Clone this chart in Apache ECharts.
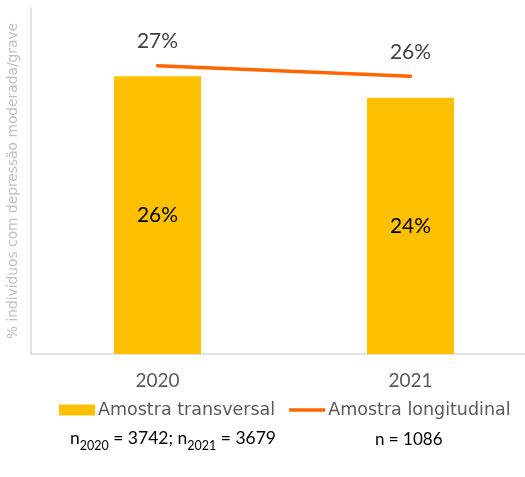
<!DOCTYPE html>
<html>
<head>
<meta charset="utf-8">
<style>
  html, body { margin: 0; padding: 0; background: #fff; }
  #chart { width: 525px; height: 477px; }
</style>
<script src="https://cdn.jsdelivr.net/npm/echarts@6/dist/echarts.min.js"></script>
</head>
<body>
<div id="chart"></div>
<script>
// Years on the category axis
const years = ['2020', '2021'];
// Cross-sectional sample: % with moderate/severe depression
const transversal = [26, 24];
// Longitudinal sample: % with moderate/severe depression
const longitudinal = [27, 26];
// Series names shown in the legend
const seriesNames = ['Amostra transversal', 'Amostra longitudinal'];
const yAxisTitle = '% indivíduos com depressão moderada/grave';

const FONT = 'Lato, "Open Sans", sans-serif';
const WIDE = '"DejaVu Sans", sans-serif';
const chart = echarts.init(document.getElementById('chart'), null, { renderer: 'canvas' });

chart.setOption({
  animation: false,
  textStyle: { fontFamily: FONT },
  grid: { left: 31, width: 506, top: 8, height: 346, containLabel: false, outerBoundsMode: 'none' },
  legend: {
    data: [
      { name: seriesNames[0], icon: 'rect' },
      { name: seriesNames[1], icon: 'path://M0,0 H38 V3.5 H0 Z' }
    ],
    left: 54,
    top: 396,
    itemWidth: 36,
    itemHeight: 11,
    itemGap: 14,
    textStyle: { fontSize: 17.5, color: '#595959', fontFamily: WIDE, padding: [0, 0, 0, -2] }
  },
  xAxis: {
    type: 'category',
    data: years,
    axisLine: { lineStyle: { color: '#d9d9d9', width: 1.5 } },
    axisTick: { show: false },
    axisLabel: { fontSize: 19, color: '#595959', margin: 17, fontFamily: FONT }
  },
  yAxis: {
    type: 'value',
    min: 0,
    max: 32.4,
    name: yAxisTitle,
    nameLocation: 'middle',
    nameGap: 11,
    nameRotate: 90,
    nameTextStyle: { fontSize: 13.8, color: '#c0c0c0', fontFamily: WIDE },
    axisLine: { show: true, lineStyle: { color: '#d9d9d9', width: 1.5 } },
    axisTick: { show: false },
    axisLabel: { show: false },
    splitLine: { show: false }
  },
  series: [
    {
      name: seriesNames[0],
      type: 'bar',
      data: transversal,
      barWidth: 87,
      itemStyle: { color: '#FFC000' },
      label: {
        show: true,
        position: 'inside',
        formatter: p => p.value + '%',
        fontSize: 21,
        color: '#000',
        fontFamily: FONT
      }
    },
    {
      name: seriesNames[1],
      type: 'line',
      data: longitudinal,
      symbol: 'circle',
      symbolSize: 0.1,
      showSymbol: true,
      lineStyle: { color: '#FF6600', width: 3.5, cap: 'round' },
      itemStyle: { color: '#FF6600' },
      label: {
        show: true,
        position: 'top',
        distance: 14,
        formatter: p => p.value + '%',
        fontSize: 21,
        color: '#404040',
        fontFamily: FONT
      }
    }
  ],
  graphic: [
    {
      type: 'text',
      left: 70,
      top: 429,
      style: {
        text: '{n|n}{s|2020}{n| = 3742; n}{s|2021}{n| = 3679}',
        rich: {
          n: { fontSize: 17.5, fill: '#000', fontFamily: FONT, verticalAlign: 'bottom', lineHeight: 24 },
          s: { fontSize: 12.5, fill: '#000', fontFamily: FONT, verticalAlign: 'bottom', lineHeight: 24, padding: [0, 0, -5, 0] }
        }
      }
    },
    {
      type: 'text',
      left: 375,
      top: 431,
      style: { text: 'n = 1086', fontSize: 17, fill: '#000', fontFamily: FONT }
    }
  ]
});
</script>
</body>
</html>
